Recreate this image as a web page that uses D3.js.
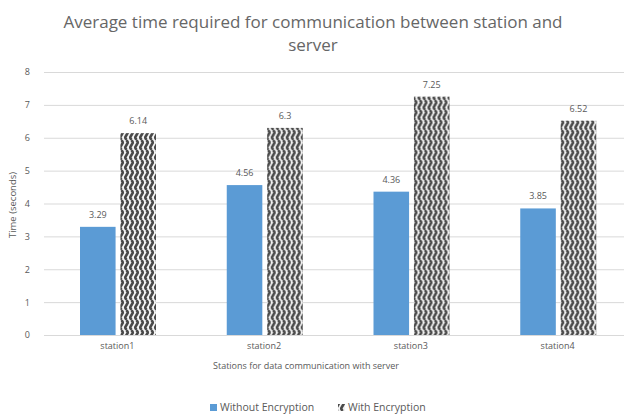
<!DOCTYPE html>
<html>
<head>
<meta charset="utf-8">
<script src="https://cdn.jsdelivr.net/npm/d3@7"></script>
<style>
  body { margin: 0; background: #fff; }
  text { font-family: "Open Sans", "Liberation Sans", sans-serif; fill: #595959; }
</style>
</head>
<body>
<svg id="chart" width="630" height="414"></svg>
<script>
var stations = ["station1", "station2", "station3", "station4"];
var withoutEnc = [3.29, 4.56, 4.36, 3.85];
var withEnc = [6.14, 6.3, 7.25, 6.52];
var seriesNames = ["Without Encryption", "With Encryption"];
var yTicks = [0, 1, 2, 3, 4, 5, 6, 7, 8];

var svg = d3.select("#chart");

// wavy pattern for the encrypted bars
var defs = svg.append("defs");
var pat = defs.append("pattern")
  .attr("id", "wave")
  .attr("patternUnits", "userSpaceOnUse")
  .attr("width", 5)
  .attr("height", 10);
pat.append("rect").attr("width", 5).attr("height", 10).attr("fill", "#f2f2f2");
pat.append("path")
  .attr("d", "M2.5,0 L4,2.5 L2.5,5 L1,7.5 L2.5,10")
  .attr("fill", "none")
  .attr("stroke", "#4a4a4a")
  .attr("stroke-width", 2.6);

var x = d3.scaleBand().domain(stations).range([44, 631]);
var y = d3.scaleLinear().domain([0, 8]).range([335, 72]);
var inner = d3.scaleBand().domain([0, 1]).range([36, 112]).paddingInner(0.12);

// gridlines
svg.append("g").selectAll("line")
  .data(yTicks)
  .enter().append("line")
  .attr("x1", 44).attr("x2", 624)
  .attr("y1", function(d) { return y(d) + 0.5; })
  .attr("y2", function(d) { return y(d) + 0.5; })
  .attr("stroke", "#d9d9d9");

// y axis labels
var yAxis = d3.axisLeft(y).tickValues(yTicks).tickSize(0).tickPadding(14);
var ya = svg.append("g").attr("transform", "translate(44,0)").call(yAxis);
ya.select(".domain").remove();
ya.selectAll("text").style("font-size", "9px").attr("fill", "#595959");

// x axis labels
var xAxis = d3.axisBottom(x).tickSize(0).tickPadding(8);
var xa = svg.append("g").attr("transform", "translate(0,335)").call(xAxis);
xa.select(".domain").remove();
xa.selectAll("text").style("font-size", "9px").attr("fill", "#595959");

var groups = svg.append("g").selectAll("g")
  .data(stations)
  .enter().append("g")
  .attr("transform", function(d) { return "translate(" + x(d) + ",0)"; });

groups.append("rect")
  .attr("x", inner(0))
  .attr("width", inner.bandwidth())
  .attr("y", function(d, i) { return y(withoutEnc[i]); })
  .attr("height", function(d, i) { return y(0) - y(withoutEnc[i]); })
  .attr("fill", "#5b9bd5");

groups.append("rect")
  .attr("x", inner(1))
  .attr("width", inner.bandwidth())
  .attr("y", function(d, i) { return y(withEnc[i]); })
  .attr("height", function(d, i) { return y(0) - y(withEnc[i]); })
  .attr("fill", "url(#wave)");

groups.append("text")
  .attr("x", inner(0) + inner.bandwidth() / 2)
  .attr("y", function(d, i) { return y(withoutEnc[i]) - 9; })
  .attr("text-anchor", "middle")
  .style("font-size", "9px")
  .text(function(d, i) { return withoutEnc[i]; });

groups.append("text")
  .attr("x", inner(1) + inner.bandwidth() / 2)
  .attr("y", function(d, i) { return y(withEnc[i]) - 9; })
  .attr("text-anchor", "middle")
  .style("font-size", "9px")
  .text(function(d, i) { return withEnc[i]; });

// titles
svg.append("text").attr("x", 313).attr("y", 28).attr("text-anchor", "middle")
  .style("font-size", "17px").style("fill", "#666")
  .text("Average time required for communication between station and");
svg.append("text").attr("x", 313).attr("y", 51).attr("text-anchor", "middle")
  .style("font-size", "17px").style("fill", "#666")
  .text("server");

svg.append("text").attr("x", 306).attr("y", 369).attr("text-anchor", "middle")
  .style("font-size", "9px").text("Stations for data communication with server");

svg.append("text")
  .attr("transform", "translate(16,205) rotate(-90)")
  .attr("text-anchor", "middle")
  .style("font-size", "9.5px")
  .text("Time (seconds)");

// legend
var legend = svg.append("g").attr("transform", "translate(210,411)");
var lx = [0, 128];
legend.selectAll("rect")
  .data(seriesNames)
  .enter().append("rect")
  .attr("x", function(d, i) { return lx[i]; })
  .attr("y", -7)
  .attr("width", 7).attr("height", 7)
  .attr("fill", function(d, i) { return i === 0 ? "#5b9bd5" : "url(#wave)"; });
legend.selectAll("text")
  .data(seriesNames)
  .enter().append("text")
  .attr("x", function(d, i) { return lx[i] + 10; })
  .attr("y", 0)
  .style("font-size", "10.5px")
  .text(function(d) { return d; });
</script>
</body>
</html>
